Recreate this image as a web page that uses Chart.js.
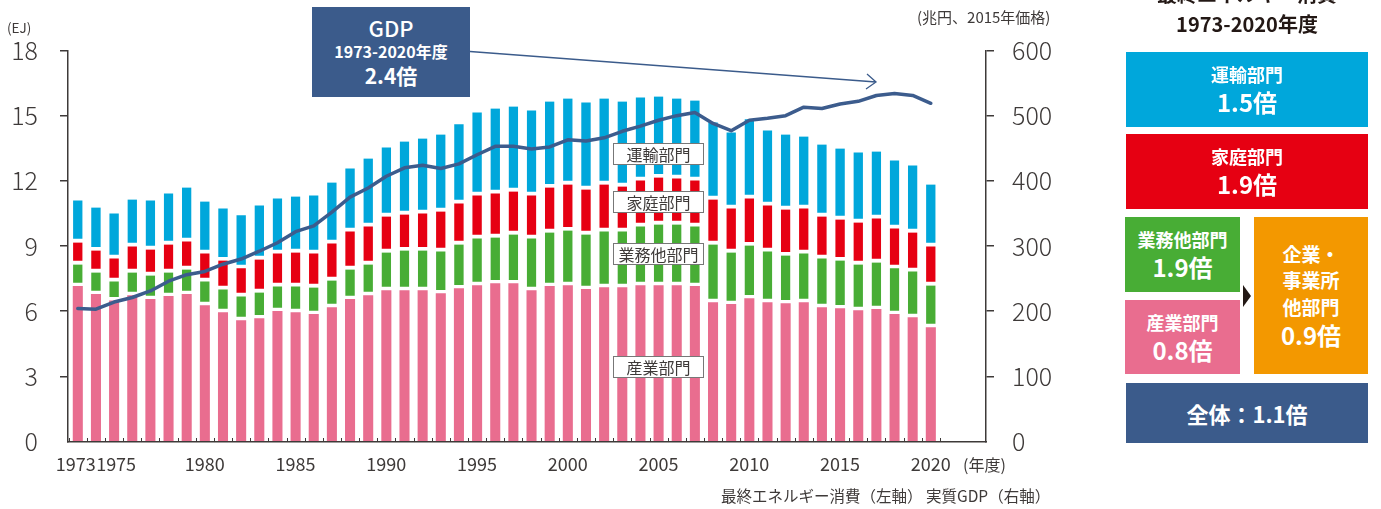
<!DOCTYPE html>
<html><head><meta charset="utf-8">
<script src="https://cdn.jsdelivr.net/npm/chart.js@4"></script>
<style>
html,body{margin:0;padding:0;background:#fff;}
#wrap{position:relative;width:1381px;height:509px;overflow:hidden;font-family:"Noto Sans CJK JP","Noto Sans",sans-serif;color:#3e3a39;}
canvas{position:absolute;left:0;top:0;}
.t{position:absolute;white-space:nowrap;}
.lbl{position:absolute;background:#fff;border:1px solid #777;box-sizing:border-box;font-size:16px;text-align:center;color:#3e3a39;}
.box{position:absolute;color:#fff;font-weight:bold;text-align:center;display:flex;flex-direction:column;justify-content:center;align-items:center;}
.box .a{font-size:18px;line-height:25px;}
.box .b{font-size:24px;line-height:30px;}
</style></head>
<body><div id="wrap">
<canvas id="c" width="1381" height="509"></canvas>

<div class="t" style="left:7px;top:18px;font-size:13.5px;line-height:18px;">(EJ)</div>
<div class="t" style="left:917px;top:7px;font-size:15px;line-height:20px;">(兆円、2015年価格)</div>
<div class="t" style="left:963px;top:453px;font-size:16px;line-height:22px;">(年度)</div>
<div class="t" style="left:721px;top:484px;font-size:15.5px;line-height:22px;">最終エネルギー消費（左軸） 実質GDP（右軸）</div>

<div class="lbl" style="left:613px;top:143px;width:91px;height:22px;line-height:20px;">運輸部門</div>
<div class="lbl" style="left:613px;top:191px;width:91px;height:22px;line-height:20px;">家庭部門</div>
<div class="lbl" style="left:613px;top:243px;width:91px;height:22px;line-height:20px;">業務他部門</div>
<div class="lbl" style="left:613px;top:356px;width:91px;height:22px;line-height:20px;">産業部門</div>

<div class="box" style="left:312px;top:7px;width:158px;height:90px;background:#3b5b8b;">
  <div style="font-size:22px;line-height:25px;font-weight:500;">GDP</div>
  <div style="font-size:16px;line-height:22px;">1973-2020年度</div>
  <div style="font-size:21px;line-height:27px;">2.4倍</div>
</div>

<div class="t" style="left:1126px;top:-18px;width:242px;text-align:center;font-size:20px;line-height:24px;font-weight:bold;color:#231815;">最終エネルギー消費</div>
<div class="t" style="left:1126px;top:11px;width:242px;text-align:center;font-size:20px;line-height:26px;font-weight:bold;color:#231815;">1973-2020年度</div>

<div class="box" style="left:1126px;top:52px;width:242px;height:75px;background:#00a7db;"><div class="a">運輸部門</div><div class="b">1.5倍</div></div>
<div class="box" style="left:1126px;top:134px;width:242px;height:75px;background:#e60012;"><div class="a">家庭部門</div><div class="b">1.9倍</div></div>
<div class="box" style="left:1125px;top:217px;width:115px;height:75px;background:#48ad35;"><div class="a">業務他部門</div><div class="b">1.9倍</div></div>
<div class="box" style="left:1125px;top:300px;width:115px;height:74px;background:#e96d8f;"><div class="a">産業部門</div><div class="b">0.8倍</div></div>
<div class="box" style="left:1254px;top:217px;width:114px;height:157px;background:#f39800;">
  <div style="font-size:19px;line-height:26.5px;">企業・</div>
  <div style="font-size:19px;line-height:26.5px;">事業所</div>
  <div style="font-size:19px;line-height:26.5px;">他部門</div>
  <div class="b">0.9倍</div>
</div>
<div class="box" style="left:1126px;top:383px;width:242px;height:60px;background:#3b5b8b;"><div style="font-size:22px;line-height:28px;">全体：1.1倍</div></div>
<svg style="position:absolute;left:1240px;top:282px;" width="14" height="28"><polygon points="3,3 11,14 3,25" fill="#231815"/></svg>
</div>

<script>
const years = [1973,1974,1975,1976,1977,1978,1979,1980,1981,1982,1983,1984,1985,1986,1987,1988,1989,1990,
  1991,1992,1993,1994,1995,1996,1997,1998,1999,2000,2001,2002,2003,2004,2005,2006,2007,2008,2009,2010,
  2011,2012,2013,2014,2015,2016,2017,2018,2019,2020];
// 産業部門 (EJ)
const industry = [7.14,6.77,6.48,6.72,6.54,6.68,6.77,6.26,5.94,5.57,5.66,5.99,5.94,5.85,6.17,6.54,6.72,6.95,
  6.95,6.95,6.81,7.04,7.18,7.27,7.27,6.95,7.14,7.18,7.00,7.09,7.09,7.18,7.18,7.18,7.14,6.40,6.31,6.58,
  6.40,6.35,6.40,6.17,6.12,6.03,6.08,5.85,5.71,5.25];
// 業務他部門 (EJ)
const commercial = [1.01,1.01,0.89,1.06,1.10,1.10,1.15,1.11,1.06,1.11,1.20,1.15,1.20,1.24,1.24,1.38,1.43,1.75,
  1.84,1.84,1.94,2.03,2.17,2.12,2.26,2.40,2.48,2.53,2.53,2.58,2.58,2.72,2.81,2.81,2.76,2.67,2.39,2.44,
  2.35,2.21,2.26,2.26,2.21,2.12,2.16,2.12,2.12,1.93];
// 家庭部門 (EJ)
const residential = [1.01,1.01,1.06,1.20,1.20,1.29,1.29,1.29,1.33,1.29,1.52,1.52,1.56,1.57,1.71,1.75,1.75,1.66,
  1.66,1.71,1.84,1.89,1.98,2.03,1.98,1.98,2.07,2.12,2.07,2.16,2.07,2.12,2.16,2.12,2.12,2.07,2.03,2.17,
  2.12,2.12,2.07,1.93,1.89,1.93,2.03,1.84,1.79,1.80];
// 運輸部門 (EJ)
const transport = [1.94,1.98,2.07,2.16,2.26,2.35,2.48,2.39,2.40,2.44,2.49,2.53,2.58,2.67,2.80,2.90,3.13,3.18,
  3.36,3.45,3.54,3.65,3.82,3.91,3.91,3.91,3.96,3.96,4.01,3.96,3.91,3.82,3.73,3.68,3.68,3.55,3.50,3.64,
  3.45,3.45,3.31,3.31,3.27,3.23,3.08,3.13,3.09,2.85];
// 実質GDP (兆円、2015年価格)
const gdp = [204,203,214,221,231,246,256,261,272,280,292,305,322,331,352,375,389,407,
  420,424,419,426,440,453,453,449,452,463,461,466,476,484,493,500,505,488,477,493,
  496,500,513,511,518,522,531,534,531,519];

const xTickYears = [1973,1975,1980,1985,1990,1995,2000,2005,2010,2015,2020];
const leftTicks = [0,3,6,9,12,15,18];
const rightTicks = [0,100,200,300,400,500,600];

const AX = '#3e3a39';
const FONT = '"Noto Sans CJK JP","Noto Sans",sans-serif';
const toXY = arr => arr.map((v,i)=>({x:years[i], y:v}));
const gap = {top:0,right:0,bottom:4,left:0};
const BT = 9.4;

const extras = {
  id:'extras',
  afterDraw(chart){
    const ctx = chart.ctx, xs = chart.scales.x, ca = chart.chartArea;
    ctx.save();
    ctx.strokeStyle = AX; ctx.lineWidth = 1;
    ctx.beginPath();
    for (let i = 0; i <= years.length; i++) {
      const px = Math.round(xs.getPixelForValue(years[0] - 0.5 + i)) + 0.5;
      ctx.moveTo(px, ca.bottom); ctx.lineTo(px, ca.bottom - 3.5);
    }
    ctx.stroke();
    // arrow from GDP box
    ctx.strokeStyle = '#3b5b8b'; ctx.lineWidth = 1.3;
    ctx.beginPath();
    ctx.moveTo(470, 51.5); ctx.lineTo(876, 82);
    ctx.moveTo(867, 74); ctx.lineTo(876, 82); ctx.lineTo(866, 89);
    ctx.stroke();
    ctx.restore();
  }
};

new Chart(document.getElementById('c'), {
  data: {
    datasets: [
      {type:'line', label:'実質GDP', data:toXY(gdp), yAxisID:'y2', borderColor:'#3c5c8d', borderWidth:3.5,
       pointRadius:0, tension:0, order:0, borderJoinStyle:'round', borderCapStyle:'round'},
      {type:'bar', label:'産業部門', data:toXY(industry), yAxisID:'y', stack:'e', backgroundColor:'#e96d8f',
       borderWidth:0, order:1, barThickness:BT},
      {type:'bar', label:'業務他部門', data:toXY(commercial), yAxisID:'y', stack:'e', backgroundColor:'#48ad35',
       borderColor:'#ffffff', borderWidth:gap, borderSkipped:false, order:1, barThickness:BT},
      {type:'bar', label:'家庭部門', data:toXY(residential), yAxisID:'y', stack:'e', backgroundColor:'#e60012',
       borderColor:'#ffffff', borderWidth:gap, borderSkipped:false, order:1, barThickness:BT},
      {type:'bar', label:'運輸部門', data:toXY(transport), yAxisID:'y', stack:'e', backgroundColor:'#00a7db',
       borderColor:'#ffffff', borderWidth:gap, borderSkipped:false, order:1, barThickness:BT}
    ]
  },
  options: {
    responsive:false, devicePixelRatio:1, animation:false,
    layout:{padding:{left:0, right:315, top:50.5, bottom:27.5}},
    plugins:{legend:{display:false}, tooltip:{enabled:false}},
    scales:{
      x:{type:'linear', min:1972.46, max:2023.04, offset:false, stacked:true,
        grid:{display:true, drawOnChartArea:false, drawTicks:false},
        border:{display:true, color:AX, width:1.5},
        afterBuildTicks:(s)=>{ s.ticks = xTickYears.map(v=>({value:v})); },
        afterFit:(s)=>{ s.height = 40; },
        ticks:{autoSkip:false, maxRotation:0, padding:12, color:AX, font:{family:FONT, size:18},
          callback:(v)=> v===1973 ? '1973 ' : (v===1975 ? ' 1975' : String(v))}
      },
      y:{type:'linear', position:'left', min:0, max:18, stacked:true,
        grid:{drawOnChartArea:false, drawTicks:true, tickLength:8, lineWidth:1.5,
          color:(c)=> (c.tick && c.tick.value===0) ? 'rgba(0,0,0,0)' : AX},
        border:{display:true, color:AX, width:1.5},
        afterBuildTicks:(s)=>{ s.ticks = leftTicks.map(v=>({value:v})); },
        afterFit:(s)=>{ s.width = 68; },
        ticks:{padding:22, color:AX, font:{family:FONT, size:25, weight:'300'}}
      },
      y2:{type:'linear', position:'right', min:0, max:600, stacked:false,
        grid:{drawOnChartArea:false, drawTicks:true, tickLength:8, lineWidth:1.5,
          color:(c)=> (c.tick && c.tick.value===0) ? 'rgba(0,0,0,0)' : AX},
        border:{display:true, color:AX, width:1.5},
        afterBuildTicks:(s)=>{ s.ticks = rightTicks.map(v=>({value:v})); },
        afterFit:(s)=>{ s.width = 80; },
        ticks:{padding:18, color:AX, font:{family:FONT, size:25, weight:'300'}}
      }
    }
  },
  plugins:[extras]
});
</script>
</body></html>
